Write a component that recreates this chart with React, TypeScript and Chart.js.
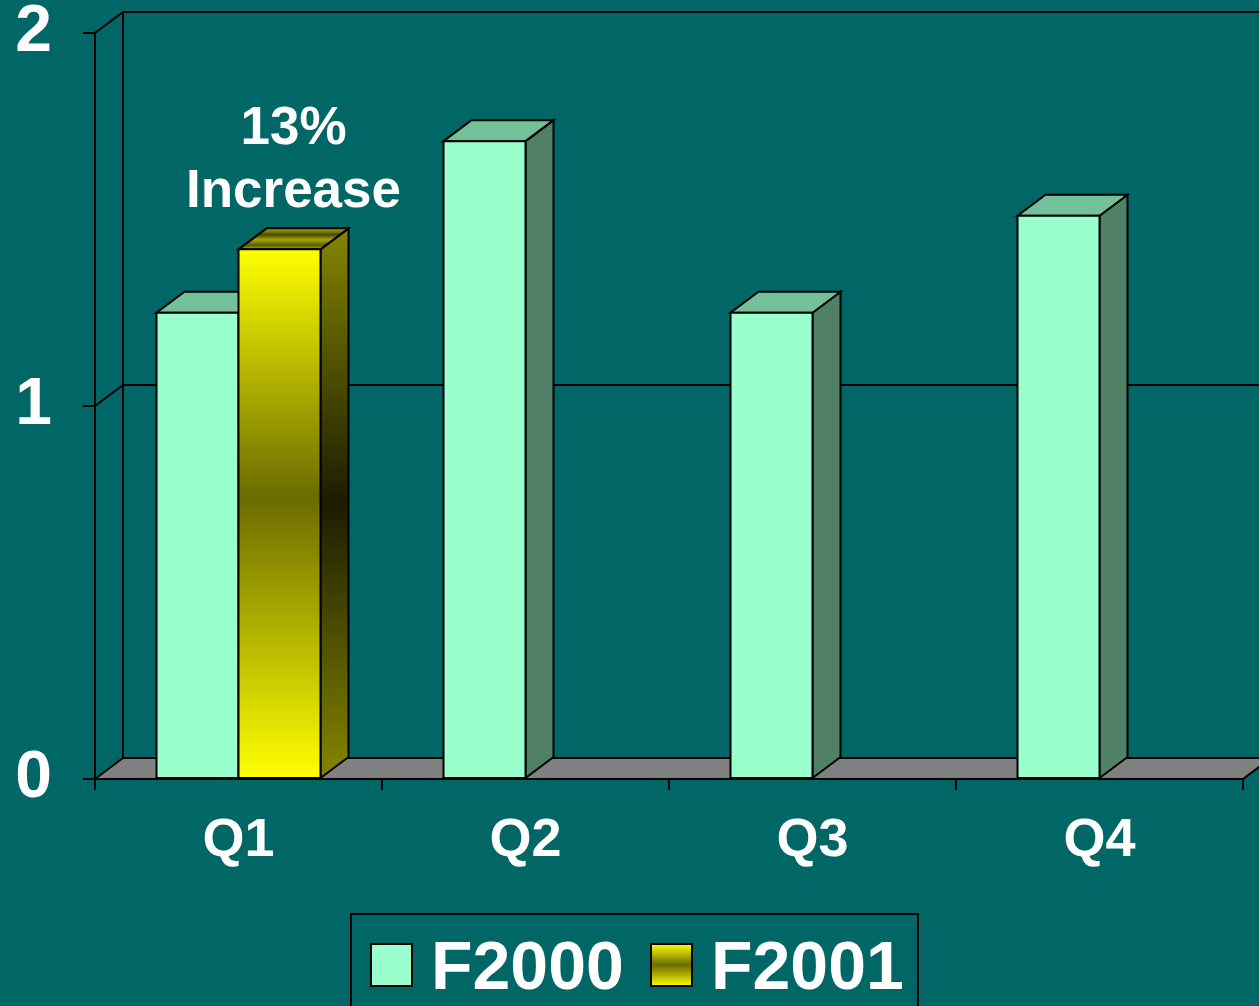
import React, { useEffect, useRef } from "react";
import { Chart, registerables } from "chart.js";

Chart.register(...registerables);

// ---- data ----
const categories = ["Q1", "Q2", "Q3", "Q4"];
const seriesNames = ["F2000", "F2001"];
const f2000Values = [1.25, 1.71, 1.25, 1.51];
const f2001Values: (number | null)[] = [1.42, null, null, null];
const yTickValues = [0, 1, 2];
const annotationLines = ["13%", "Increase"];

// ---- style ----
const FONT = '"Liberation Sans", Arial, sans-serif';
const BG = "#006666";
const MINT = "#99FFCC";
const MINT_TOP = "#73C199";
const MINT_SIDE = "#508166";
const FLOOR = "#808080";
const DX = 28;
const DY = 21;

function yellowFront(ctx: CanvasRenderingContext2D, yTop: number, yBase: number) {
  const g = ctx.createLinearGradient(0, yTop, 0, yBase);
  g.addColorStop(0, "#FFFF00");
  g.addColorStop(0.47, "#6B6B00");
  g.addColorStop(1, "#FFFF00");
  return g;
}
function yellowSide(ctx: CanvasRenderingContext2D, yTop: number, yBase: number) {
  const g = ctx.createLinearGradient(0, yTop - DY, 0, yBase);
  g.addColorStop(0, "#858500");
  g.addColorStop(0.5, "#1C1C00");
  g.addColorStop(1, "#858500");
  return g;
}
function yellowTop(ctx: CanvasRenderingContext2D, yTop: number) {
  const g = ctx.createLinearGradient(0, yTop - DY, 0, yTop);
  g.addColorStop(0, "#B0B000");
  g.addColorStop(0.3, "#4A4A00");
  g.addColorStop(0.55, "#A8A800");
  g.addColorStop(0.8, "#5A5A00");
  g.addColorStop(1, "#B0B000");
  return g;
}

function poly(ctx: CanvasRenderingContext2D, pts: number[][], fill: any) {
  ctx.beginPath();
  ctx.moveTo(pts[0][0], pts[0][1]);
  for (let i = 1; i < pts.length; i++) ctx.lineTo(pts[i][0], pts[i][1]);
  ctx.closePath();
  ctx.fillStyle = fill;
  ctx.fill();
  ctx.stroke();
}

const threeDPlugin = {
  id: "threeD",
  beforeDraw(chart: any) {
    const ctx = chart.ctx as CanvasRenderingContext2D;
    ctx.save();
    ctx.fillStyle = BG;
    ctx.fillRect(0, 0, chart.width, chart.height);
    const { left, right, top, bottom } = chart.chartArea;
    const ys = chart.scales.y;
    ctx.strokeStyle = "#000";
    ctx.lineWidth = 2;
    yTickValues.forEach((v) => {
      const py = ys.getPixelForValue(v);
      if (v === 0) return;
      ctx.beginPath();
      ctx.moveTo(left, py);
      ctx.lineTo(left + DX, py - DY);
      ctx.lineTo(right + DX, py - DY);
      ctx.stroke();
    });
    ctx.beginPath();
    ctx.moveTo(left + DX, top - DY);
    ctx.lineTo(left + DX, bottom - DY);
    ctx.stroke();
    poly(
      ctx,
      [
        [left, bottom],
        [left + DX, bottom - DY],
        [right + DX, bottom - DY],
        [right, bottom],
      ],
      FLOOR
    );
    ctx.restore();
  },
  afterDatasetsDraw(chart: any) {
    const ctx = chart.ctx as CanvasRenderingContext2D;
    const bars: any[] = [];
    chart.data.datasets.forEach((ds: any, di: number) => {
      const meta = chart.getDatasetMeta(di);
      meta.data.forEach((el: any, i: number) => {
        const v = ds.data[i];
        if (v === null || v === undefined) return;
        const p = el.getProps(["x", "y", "base", "width"], true);
        bars.push({ di, x0: p.x - p.width / 2, x1: p.x + p.width / 2, yTop: p.y, yBase: p.base });
      });
    });
    bars.sort((a, b) => a.x0 - b.x0);
    ctx.save();
    ctx.strokeStyle = "#000";
    ctx.lineWidth = 2;
    ctx.lineJoin = "miter";
    bars.forEach((b) => {
      const { x0, x1, yTop, yBase } = b;
      const yellow = b.di === 1;
      const front = yellow ? yellowFront(ctx, yTop, yBase) : MINT;
      const side = yellow ? yellowSide(ctx, yTop, yBase) : MINT_SIDE;
      const topC = yellow ? yellowTop(ctx, yTop) : MINT_TOP;
      poly(ctx, [[x1, yTop], [x1 + DX, yTop - DY], [x1 + DX, yBase - DY], [x1, yBase]], side);
      poly(ctx, [[x0, yTop], [x0 + DX, yTop - DY], [x1 + DX, yTop - DY], [x1, yTop]], topC);
      poly(ctx, [[x0, yTop], [x1, yTop], [x1, yBase], [x0, yBase]], front);
    });
    ctx.restore();
  },
  afterDraw(chart: any) {
    const ctx = chart.ctx as CanvasRenderingContext2D;
    ctx.save();
    const el = chart.getDatasetMeta(1).data[0];
    if (el) {
      const p = el.getProps(["x", "y"], true);
      ctx.fillStyle = "#FFFFFF";
      ctx.font = `bold 53px ${FONT}`;
      ctx.textAlign = "center";
      ctx.textBaseline = "middle";
      ctx.fillText(annotationLines[0], p.x + DX / 2, p.y - 120);
      ctx.fillText(annotationLines[1], p.x + DX / 2, p.y - 57);
    }
    ctx.strokeStyle = "#000";
    ctx.lineWidth = 2;
    ctx.strokeRect(351, 914, 567, 110);
    ctx.fillStyle = MINT;
    ctx.fillRect(371, 944, 41, 42);
    ctx.strokeRect(371, 944, 41, 42);
    const g = ctx.createLinearGradient(0, 944, 0, 986);
    g.addColorStop(0, "#FFFF00");
    g.addColorStop(0.5, "#6B6B00");
    g.addColorStop(1, "#FFFF00");
    ctx.fillStyle = g;
    ctx.fillRect(651, 944, 41, 42);
    ctx.strokeRect(651, 944, 41, 42);
    ctx.fillStyle = "#FFFFFF";
    ctx.font = `bold 68px ${FONT}`;
    ctx.textAlign = "left";
    ctx.textBaseline = "alphabetic";
    ctx.fillText(seriesNames[0], 431, 989);
    ctx.fillText(seriesNames[1], 711, 989);
    ctx.restore();
  },
};

export default function App() {
  const ref = useRef<HTMLCanvasElement | null>(null);
  useEffect(() => {
    if (!ref.current) return;
    const chart = new Chart(ref.current, {
      type: "bar",
      data: {
        labels: categories,
        datasets: [
          { label: seriesNames[0], data: f2000Values, backgroundColor: MINT, borderColor: "#000", borderWidth: 2 },
          { label: seriesNames[1], data: f2001Values, backgroundColor: "#FFFF00", borderColor: "#000", borderWidth: 2 },
        ],
      },
      options: {
        responsive: false,
        animation: false,
        devicePixelRatio: 1,
        layout: { padding: { top: 0, right: 16, left: 0, bottom: 0 } },
        datasets: { bar: { categoryPercentage: 0.5714, barPercentage: 1 } },
        plugins: { legend: { display: false }, tooltip: { enabled: false } },
        scales: {
          x: {
            offset: true,
            grid: { offset: true, drawOnChartArea: false, drawTicks: true, tickLength: 11, color: "#000", lineWidth: 2 },
            border: { display: true, color: "#000", width: 2 },
            ticks: {
              color: "#FFFFFF",
              font: { family: FONT, size: 54, weight: "bold", lineHeight: 1 },
              padding: 24,
              maxRotation: 0,
            },
            afterFit: (s: any) => {
              s.height = 227;
            },
          },
          y: {
            min: 0,
            max: 2,
            grid: { drawOnChartArea: false, drawTicks: true, tickLength: 12, color: "#000", lineWidth: 2 },
            border: { display: true, color: "#000", width: 2 },
            ticks: {
              stepSize: 1,
              color: "#FFFFFF",
              font: { family: FONT, size: 66, weight: "bold", lineHeight: 1 },
              padding: 31,
            },
            afterFit: (s: any) => {
              s.width = 95;
              s.paddingTop = 33;
              s.paddingBottom = 0;
            },
          },
        },
      },
      plugins: [threeDPlugin],
    });
    return () => chart.destroy();
  }, []);
  return (
    <div style={{ position: "absolute", left: 0, top: 0, width: 1259, height: 1006, background: BG }}>
      <canvas ref={ref} width={1259} height={1006} style={{ width: 1259, height: 1006, display: "block" }} />
    </div>
  );
}
